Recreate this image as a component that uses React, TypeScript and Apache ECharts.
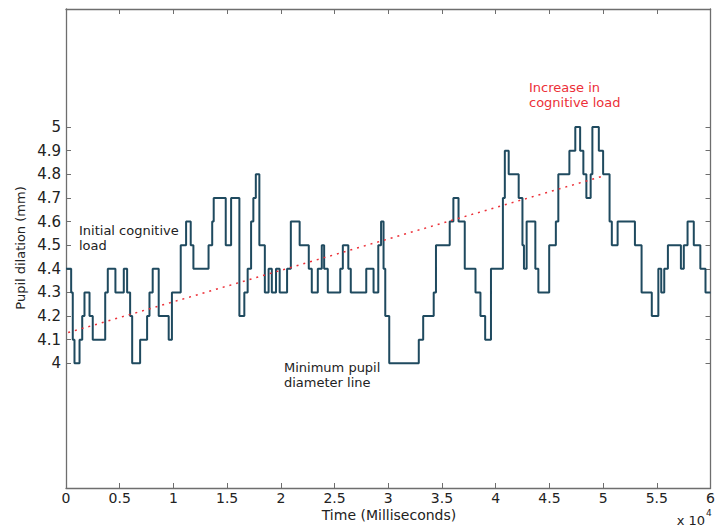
import React, { useEffect, useRef } from 'react';
import * as echarts from 'echarts';

// Step-wise pupil diameter samples: time (ms) at which each level starts, and the level (mm)
const timesMs = [
  0, 480, 630, 790, 1260, 1510, 1720, 2190, 2490, 3650,
  3890, 4600, 5380, 5690, 5970, 6160, 6900, 7550, 7770, 8070,
  8630, 9560, 9860, 10680, 11180, 11610, 11860, 13270, 13610, 13750,
  14870, 15370, 16140, 16600, 16910, 17230, 17440, 17670, 18000, 18510,
  18860, 19160, 19550, 19890, 20580, 20930, 21750, 22600, 22880, 23440,
  23810, 24030, 24370, 25530, 25770, 26280, 26510, 27950, 28630, 29070,
  29330, 29560, 29720, 30090, 32840, 33250, 34230, 34440, 35720, 36060,
  36540, 37120, 38120, 38580, 39020, 39560, 40670, 40850, 41210, 42140,
  42490, 42630, 42880, 43690, 43970, 44980, 45600, 45830, 46860, 47410,
  47860, 48160, 48440, 48840, 49000, 49600, 50000, 50600, 50810, 51350,
  52960, 53580, 54530, 55140, 55410, 55690, 56030, 57240, 57510, 57860,
  58440, 59050, 59530, 60000,
];
const pupilMm = [
  4.4, 4.3, 4.1, 4.0, 4.1, 4.2, 4.3, 4.2, 4.1, 4.3,
  4.4, 4.3, 4.4, 4.3, 4.2, 4.0, 4.1, 4.2, 4.3, 4.4,
  4.2, 4.1, 4.3, 4.5, 4.6, 4.5, 4.4, 4.5, 4.6, 4.7,
  4.5, 4.7, 4.2, 4.3, 4.4, 4.6, 4.7, 4.8, 4.5, 4.3,
  4.4, 4.3, 4.4, 4.3, 4.4, 4.6, 4.5, 4.4, 4.3, 4.4,
  4.5, 4.4, 4.3, 4.4, 4.5, 4.4, 4.3, 4.4, 4.3, 4.5,
  4.6, 4.4, 4.2, 4.0, 4.1, 4.2, 4.3, 4.5, 4.6, 4.7,
  4.6, 4.4, 4.3, 4.2, 4.1, 4.4, 4.7, 4.9, 4.8, 4.7,
  4.5, 4.4, 4.6, 4.4, 4.3, 4.5, 4.6, 4.8, 4.9, 5.0,
  4.9, 4.8, 4.7, 4.8, 5.0, 4.9, 4.8, 4.6, 4.5, 4.6,
  4.5, 4.3, 4.2, 4.4, 4.3, 4.4, 4.5, 4.4, 4.5, 4.6,
  4.5, 4.4, 4.3, 4.3,
];

// Dotted trend line (increase in cognitive load)
const trendTimesMs = [200, 49800];
const trendMm = [4.13, 4.79];

// Axis ticks
const yTicks = [4, 4.1, 4.2, 4.3, 4.4, 4.5, 4.6, 4.7, 4.8, 4.9, 5];
const xMin = 0;
const xMax = 60000;
const xStep = 5000;
const yMin = 3.472;
const yMax = 5.5;

export default function App() {
  const ref = useRef<HTMLDivElement>(null);

  useEffect(() => {
    if (!ref.current) return;
    const chart = echarts.init(ref.current, null, { renderer: 'svg' });
    const font = 'DejaVu Sans';
    const axisColor = '#6e6e6e';
    const textColor = '#222222';
    const red = '#ec3038';

    const pupilData = timesMs.map((t, i) => [t, pupilMm[i]]);
    const trendData = trendTimesMs.map((t, i) => [t, trendMm[i]]);

    const axisLine = { show: true, onZero: false, lineStyle: { color: axisColor, width: 1.3 } };
    const axisTickX = { show: true, inside: true, length: 5, lineStyle: { color: axisColor, width: 1 } };
    const axisTickY = { show: true, inside: true, length: 5, customValues: yTicks, lineStyle: { color: axisColor, width: 1 } };

    chart.setOption({
      animation: false,
      backgroundColor: '#ffffff',
      grid: { left: 66, right: 6, top: 9, bottom: 38, containLabel: false },
      xAxis: [
        {
          type: 'value', position: 'bottom', min: xMin, max: xMax, interval: xStep,
          axisLine, axisTick: axisTickX,
          axisLabel: {
            formatter: (v: number) => String(v / 10000),
            fontFamily: font, fontSize: 14, lineHeight: 14, color: textColor, margin: 3,
          },
          splitLine: { show: false },
        },
        {
          type: 'value', position: 'top', min: xMin, max: xMax, interval: xStep,
          axisLine, axisTick: axisTickX, axisLabel: { show: false },
          splitLine: { show: false },
        },
      ],
      yAxis: [
        {
          type: 'value', position: 'left', min: yMin, max: yMax,
          axisLine, axisTick: axisTickY,
          axisLabel: {
            customValues: yTicks,
            formatter: (v: number) => String(Math.round(v * 10) / 10),
            fontFamily: font, fontSize: 15, color: textColor, margin: 5,
          },
          splitLine: { show: false },
        },
        {
          type: 'value', position: 'right', min: yMin, max: yMax,
          axisLine, axisTick: axisTickY, axisLabel: { show: false },
          splitLine: { show: false },
        },
      ],
      series: [
        {
          type: 'line', step: 'end', data: pupilData, symbol: 'none',
          xAxisIndex: 0, yAxisIndex: 0,
          lineStyle: { color: '#1f4a5f', width: 2 },
          z: 2,
        },
        {
          type: 'line', data: trendData, symbol: 'none',
          xAxisIndex: 0, yAxisIndex: 0,
          lineStyle: { color: red, width: 1.5, type: [2, 5] },
          z: 3,
        },
      ],
      graphic: [
        {
          type: 'text', x: 20, y: 248, rotation: Math.PI / 2,
          style: { text: 'Pupil dilation (mm)', font: `13px ${font}`, fill: textColor, align: 'center', verticalAlign: 'middle' },
        },
        {
          type: 'text', x: 389, y: 515,
          style: { text: 'Time (Milliseconds)', font: `14px ${font}`, lineHeight: 14, fill: textColor, align: 'center', verticalAlign: 'middle' },
        },
        {
          type: 'text', x: 705, y: 520,
          style: { text: 'x 10', font: `13px ${font}`, lineHeight: 11, fill: textColor, align: 'right', verticalAlign: 'middle' },
        },
        {
          type: 'text', x: 706, y: 513,
          style: { text: '4', font: `9px ${font}`, lineHeight: 8, fill: textColor, align: 'left', verticalAlign: 'middle' },
        },
        {
          type: 'text', x: 79, y: 223,
          style: { text: 'Initial cognitive\nload', font: `13px ${font}`, lineHeight: 15, fill: textColor, align: 'left', verticalAlign: 'top' },
        },
        {
          type: 'text', x: 284, y: 360,
          style: { text: 'Minimum pupil\ndiameter line', font: `13px ${font}`, lineHeight: 15, fill: textColor, align: 'left', verticalAlign: 'top' },
        },
        {
          type: 'text', x: 529, y: 80,
          style: { text: 'Increase in\ncognitive load', font: `13px ${font}`, lineHeight: 15, fill: red, align: 'left', verticalAlign: 'top' },
        },
      ],
    });

    return () => chart.dispose();
  }, []);

  return <div ref={ref} style={{ position: 'fixed', left: 0, top: 0, width: 718, height: 526 }} />;
}
